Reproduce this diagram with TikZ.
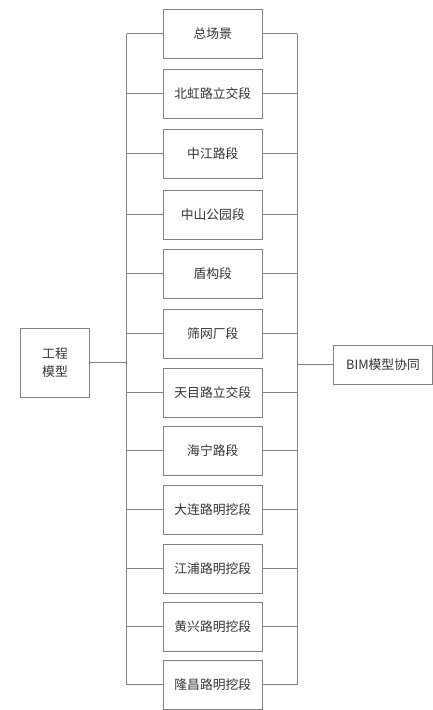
\documentclass[tikz,border=0pt]{standalone}
\usepackage{fontspec}
\setmainfont{Noto Sans CJK SC}
\definecolor{linegray}{HTML}{808080}
\definecolor{textgray}{HTML}{333333}
\begin{document}
\begin{tikzpicture}[x=1pt,y=-1pt,
  box/.style={draw=linegray,line width=0.9pt,rectangle,inner sep=0pt,text=textgray,font=\fontsize{12.8}{18}\selectfont,align=center},
  seg/.style={box,minimum width=99pt,minimum height=49pt},
  conn/.style={draw=linegray,line width=0.9pt}]
\useasboundingbox (0,0) rectangle (433,710);
\coordinate (lb) at (126.7,0);
\coordinate (rb) at (297,0);
\node[box,minimum width=68.6pt,minimum height=69pt] (L) at (55,362.8) {工程\\模型};
\node[box,minimum width=98.5pt,minimum height=39.5pt] (R) at (383,364.8) {BIM模型协同};
\foreach \n/\t/\y in {1/总场景/9.3,2/北虹路立交段/69.3,3/中江路段/129.3,4/中山公园段/190.3,5/盾构段/249.3,6/筛网厂段/309.3,7/天目路立交段/368.3,8/海宁路段/426.3,9/大连路明挖段/485.3,10/江浦路明挖段/544.3,11/黄兴路明挖段/602.3,12/隆昌路明挖段/660.3}{
  \node[seg] (b\n) at (212.8,\y+24.5) {\t};
  \draw[conn] (b\n.west) -- (b\n.west -| lb);
  \draw[conn] (b\n.east) -- (b\n.east -| rb);
}
\draw[conn] (b1.west -| lb) -- (b12.west -| lb);
\draw[conn] (b1.east -| rb) -- (b12.east -| rb);
\draw[conn] (L.east) -- (L.east -| lb);
\draw[conn] (R.west) -- (R.west -| rb);
\end{tikzpicture}
\end{document}
